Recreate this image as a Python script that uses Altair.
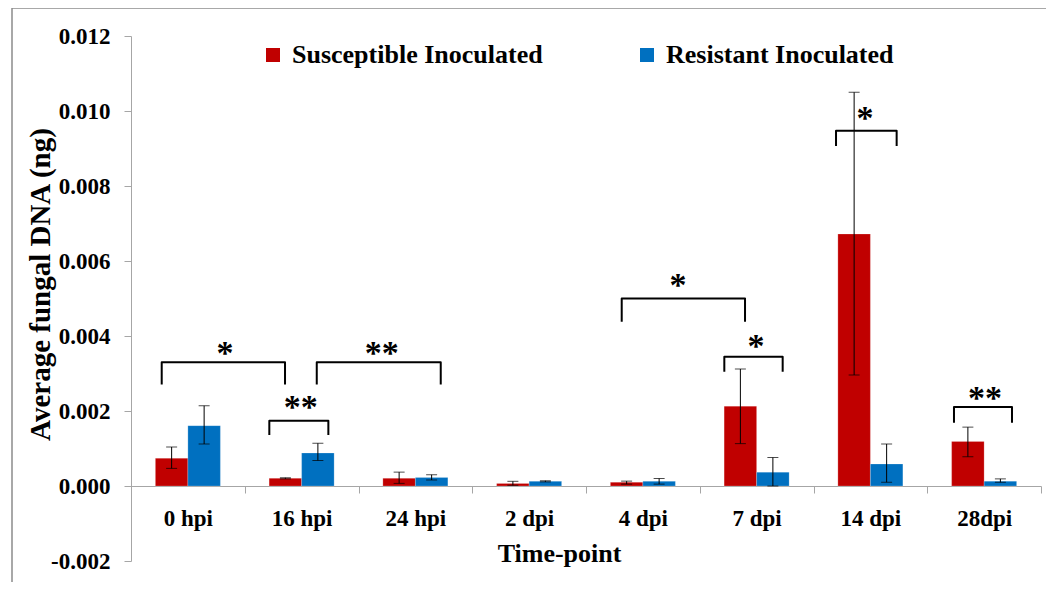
import altair as alt
import pandas as pd

# ---------------- data ----------------
timepoints = ["0 hpi", "16 hpi", "24 hpi", "2 dpi", "4 dpi", "7 dpi", "14 dpi", "28dpi"]
series = ["Susceptible Inoculated", "Resistant Inoculated"]
colors = ["#C00000", "#0070C0"]

sus_mean = [0.00074, 0.000205, 0.000205, 0.00007, 0.00010, 0.00213, 0.00672, 0.00119]
sus_lo = [0.00047, 0.00019, 0.00007, 0.00002, 0.00005, 0.00113, 0.00296, 0.00078]
sus_hi = [0.00104, 0.00022, 0.00037, 0.000125, 0.00013, 0.00312, 0.01050, 0.00157]

res_mean = [0.00161, 0.00088, 0.00023, 0.000125, 0.000125, 0.00037, 0.000587, 0.00013]
res_lo = [0.00112, 0.00068, 0.00016, 0.00011, 0.00005, 0.00000, 0.00010, 0.00010]
res_hi = [0.00214, 0.00114, 0.00030, 0.00014, 0.00020, 0.00076, 0.00112, 0.00019]

# significance brackets (x in category-index units, y in data units)
br_left = [-0.230, 0.716, 1.133, 3.814, 4.716, 5.698, 6.735]
br_right = [0.854, 1.235, 2.223, 4.898, 5.229, 6.231, 7.245]
br_top = [0.00330, 0.00174, 0.00330, 0.00500, 0.00345, 0.009475, 0.00211]
br_foot = [0.00271, 0.00136, 0.00271, 0.00438, 0.00305, 0.009067, 0.00169]
star_x = [0.326, 0.992, 1.704, 4.309, 4.994, 5.952, 7.008]
star_y = [0.00368, 0.00225, 0.00368, 0.00549, 0.00387, 0.00995, 0.00248]
star_label = ["*", "**", "**", "*", "*", "*", "**"]

y_ticks = [-0.002, 0.0, 0.002, 0.004, 0.006, 0.008, 0.010, 0.012]

# ---------------- tables ----------------
rows = []
for i, t in enumerate(timepoints):
    rows.append({"time": t, "series": series[0], "mean": sus_mean[i], "lo": sus_lo[i], "hi": sus_hi[i]})
    rows.append({"time": t, "series": series[1], "mean": res_mean[i], "lo": res_lo[i], "hi": res_hi[i]})
bars_df = pd.DataFrame(rows)

br_rows = []
for k in range(len(br_left)):
    pts = [(br_left[k], br_foot[k]), (br_left[k], br_top[k]), (br_right[k], br_top[k]), (br_right[k], br_foot[k])]
    for j, (xx, yy) in enumerate(pts):
        br_rows.append({"id": k, "ord": j, "bx": xx, "by": yy})
br_df = pd.DataFrame(br_rows)
star_df = pd.DataFrame({"sx": star_x, "sy": star_y, "lab": star_label})

FONT = "Liberation Serif"
GRAY = "#A6A6A6"

yscale = alt.Scale(domain=[-0.002, 0.012], nice=False, zero=False)
xq = alt.Scale(domain=[-0.5, 7.5], nice=False, zero=False)

yaxis = alt.Axis(values=y_ticks, grid=False, domainColor=GRAY, tickColor=GRAY,
                 tickSize=7,
                 labelExpr="replace(format(datum.value, '.3f'), '\u2212', '-')",
                 labelFont=FONT, labelFontWeight="bold", labelFontSize=23,
                 labelColor="black", labelPadding=14,
                 title="Average fungal DNA (ng)",
                 titleFont=FONT, titleFontWeight="bold", titleFontSize=29,
                 titleColor="black", titleX=-91, titleY=248, titleAngle=270,
                 titleAlign="center", titleBaseline="middle")
YT = "Average fungal DNA (ng)"

base = alt.Chart(bars_df)

bars = base.mark_bar(stroke="#ffffff", strokeWidth=0.6, strokeOpacity=0.35).encode(
    x=alt.X("time:N", sort=timepoints,
            scale=alt.Scale(paddingInner=0, paddingOuter=0),
            axis=alt.Axis(title="Time-point", labelAngle=0, tickBand="extent", tickSize=7,
                          offset=-75, domainColor=GRAY, tickColor=GRAY,
                          labelFont=FONT, labelFontWeight="bold", labelFontSize=23,
                          labelColor="black", labelPadding=14,
                          titleFont=FONT, titleFontWeight="bold", titleFontSize=26,
                          titleColor="black", titleX=428, titleY=67,
                          titleBaseline="middle", titleAlign="center")),
    xOffset=alt.XOffset("series:N", sort=series,
                        scale=alt.Scale(paddingInner=0, paddingOuter=0.75)),
    y=alt.Y("mean:Q", scale=yscale, axis=yaxis, title=YT),
    color=alt.Color("series:N", sort=series,
                    scale=alt.Scale(domain=series, range=colors),
                    legend=alt.Legend(orient="none", legendX=129, legendY=6,
                                      direction="horizontal", title=None,
                                      symbolType="square", symbolSize=196,
                                      symbolStrokeWidth=0, symbolOpacity=1,
                                      labelFont=FONT, labelFontWeight="bold",
                                      labelFontSize=26, labelColor="black",
                                      labelLimit=600, labelOffset=6,
                                      columnPadding=91, padding=0)),
)

err = base.mark_rule(color="black", strokeWidth=1).encode(
    x=alt.X("time:N", sort=timepoints),
    xOffset=alt.XOffset("series:N", sort=series),
    y=alt.Y("lo:Q", scale=yscale, axis=yaxis, title=YT),
    y2="hi:Q",
)
cap_lo = base.mark_tick(color="black", orient="horizontal", size=11, thickness=1).encode(
    x=alt.X("time:N", sort=timepoints),
    xOffset=alt.XOffset("series:N", sort=series),
    y=alt.Y("lo:Q", scale=yscale, axis=yaxis, title=YT),
)
cap_hi = base.mark_tick(color="black", orient="horizontal", size=11, thickness=1).encode(
    x=alt.X("time:N", sort=timepoints),
    xOffset=alt.XOffset("series:N", sort=series),
    y=alt.Y("hi:Q", scale=yscale, axis=yaxis, title=YT),
)

brackets = alt.Chart(br_df).mark_line(color="black", strokeWidth=2, strokeJoin="round").encode(
    x=alt.X("bx:Q", scale=xq, axis=None),
    y=alt.Y("by:Q", scale=yscale, axis=yaxis, title=YT),
    detail="id:N",
    order="ord:Q",
)
stars = alt.Chart(star_df).mark_text(font=FONT, fontWeight="bold", fontSize=34,
                                     color="black", baseline="alphabetic", dy=16).encode(
    x=alt.X("sx:Q", scale=xq, axis=None),
    y=alt.Y("sy:Q", scale=yscale, axis=yaxis, title=YT),
    text="lab:N",
)
frame = alt.Chart(pd.DataFrame({"f": [0]})).mark_rect(fill=None, stroke="#8C8C8C", strokeWidth=1.5).encode(
    x=alt.value(-119), x2=alt.value(919), y=alt.value(-28), y2=alt.value(570),
)

band_layer = alt.layer(bars, err, cap_lo, cap_hi)
q_layer = alt.layer(brackets, stars, frame)

chart = alt.layer(band_layer, q_layer).resolve_scale(x="independent").properties(
    width=910, height=525,
    padding={"left": 123, "top": 28, "right": 5, "bottom": 21},
    autosize=alt.AutoSizeParams(type="none"),
).configure_view(stroke=None)

chart.save("out.html", embed_options={"renderer": "svg", "actions": False})
